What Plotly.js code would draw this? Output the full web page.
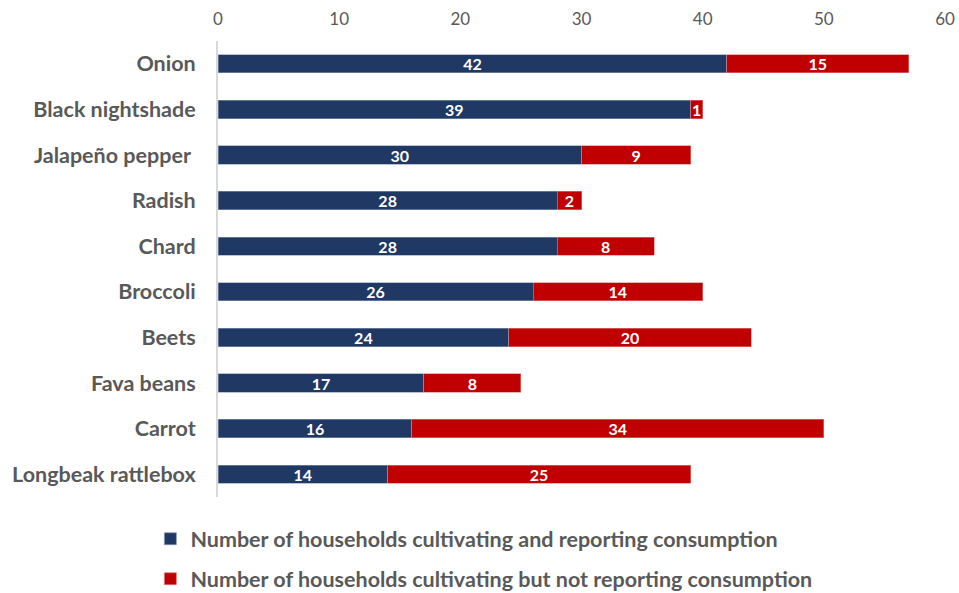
<!DOCTYPE html>
<html>
<head>
<meta charset="utf-8">
<script src="https://cdn.plot.ly/plotly-3.0.1.min.js"></script>
<style>html,body{margin:0;padding:0;background:#fff;}#chart{width:959px;height:593px;}</style>
</head>
<body>
<div id="chart"></div>
<script>
const categories = ["Onion","Black nightshade","Jalapeño pepper ","Radish","Chard","Broccoli","Beets","Fava beans","Carrot","Longbeak rattlebox"];
const reporting = [42,39,30,28,28,26,24,17,16,14];
const notReporting = [15,1,9,2,8,14,20,8,34,25];
const seriesNames = ["Number of households cultivating and reporting consumption","Number of households cultivating but not reporting consumption"];
const xTicks = [0,10,20,30,40,50,60];

const FONT = "Lato, 'Open Sans', sans-serif";
const traces = [
  {type:'bar', orientation:'h', name:seriesNames[0], y:categories, x:reporting,
   marker:{color:'#203864', line:{color:'#8a9bb8', width:0.6}},
   text:reporting.map(String), textposition:'inside', insidetextanchor:'middle', textangle:0,
   textfont:{family:FONT, size:16, color:'#ffffff', weight:'bold'}, legendgroup:'a', hoverinfo:'x+y'},
  {type:'bar', orientation:'h', name:seriesNames[1], y:categories, x:notReporting,
   marker:{color:'#C00000', line:{color:'#e08080', width:0.6}},
   text:notReporting.map(String), textposition:'inside', insidetextanchor:'middle', textangle:0,
   textfont:{family:FONT, size:16, color:'#ffffff', weight:'bold'}, legendgroup:'b', hoverinfo:'x+y'}
];
const layout = {
  width:959, height:593, barmode:'stack', bargap:0.6,
  margin:{l:218, r:14, t:41, b:96},
  paper_bgcolor:'#ffffff', plot_bgcolor:'#ffffff',
  font:{family:FONT, color:'#595959'},
  uniformtext:{mode:'show', minsize:15},
  xaxis:{side:'top', range:[0,60], tickvals:xTicks, ticktext:xTicks.map(String), showgrid:false, zeroline:false,
         showline:false, ticks:'', ticklabelstandoff:12, tickfont:{family:FONT, size:17, color:'#595959'}, fixedrange:true},
  yaxis:{autorange:'reversed', showgrid:false, zeroline:false, showline:true, linecolor:'#d9d9d9', linewidth:2,
         ticks:'', ticklabelstandoff:16, tickfont:{family:FONT, size:21.5, color:'#595959', weight:'bold'}, fixedrange:true},
  showlegend:true,
  legend:{orientation:'v', xref:'paper', x:-0.093, xanchor:'left', yref:'container', y:0.126, yanchor:'top',
          tracegroupgap:9, font:{family:FONT, size:21.5, color:'#595959', weight:'bold'}, itemwidth:30, traceorder:'grouped'}
};
Plotly.newPlot('chart', traces, layout, {displayModeBar:false, staticPlot:true});
</script>
</body>
</html>
